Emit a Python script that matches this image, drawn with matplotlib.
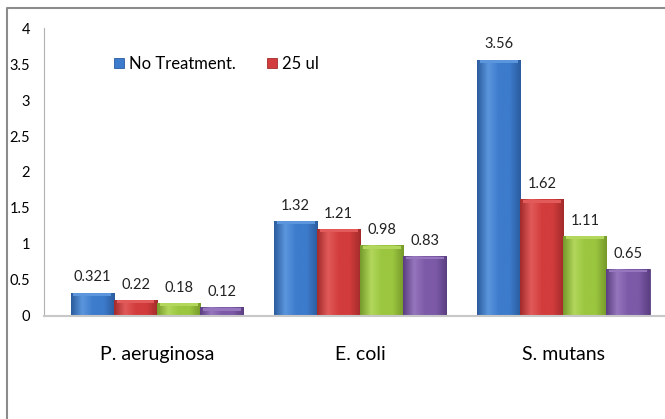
"""
Grouped bar chart: four treatments for three bacteria, Excel-like style
"""

import numpy as np
import matplotlib.pyplot as plt
from matplotlib.colors import LinearSegmentedColormap
from matplotlib.lines import Line2D

plt.rcParams['font.family'] = ['Lato', 'DejaVu Sans']

categories = ["P. aeruginosa", "E. coli", "S. mutans"]
series_names = ["No Treatment.", "25 ul", "_s3", "_s4"]   # only two appear in the legend
values = [
    [0.321, 1.32, 3.56],
    [0.22, 1.21, 1.62],
    [0.18, 0.98, 1.11],
    [0.12, 0.83, 0.65],
]
labels = [
    ["0.321", "1.32", "3.56"],
    ["0.22", "1.21", "1.62"],
    ["0.18", "0.98", "1.11"],
    ["0.12", "0.83", "0.65"],
]
yticks = [0, 0.5, 1, 1.5, 2, 2.5, 3, 3.5, 4]
ytick_labels = ["0", "0.5", "1", "1.5", "2", "2.5", "3", "3.5", "4"]

# base / light / dark shades for each series
shades = [
    ("#3d7bcc", "#5b96dd", "#2b5c9e"),
    ("#d23c3c", "#e25a5a", "#a32b2b"),
    ("#9bc63f", "#b2d75c", "#769a2b"),
    ("#7d5aa8", "#9676bd", "#5b3f82"),
]

fig = plt.figure(figsize=(6.65, 4.19), dpi=100)
ax = fig.add_axes([0.066, 0.246, 0.934, 0.687])
ax.patch.set_visible(False)

x = np.arange(len(categories))
w = 0.212
offsets = (np.arange(4) - 1.5) * w

for i in range(4):
    base, light, dark = shades[i]
    bars = ax.bar(x + offsets[i], values[i], w, color=base, label=series_names[i],
                  edgecolor=dark, linewidth=0.6, zorder=2)
    cmap = LinearSegmentedColormap.from_list("g%d" % i, [dark, light, base, base, dark])
    grad = np.linspace(0, 1, 64).reshape(1, -1)
    for b in bars:
        bx, by = b.get_x(), b.get_y()
        bw, bh = b.get_width(), b.get_height()
        im = ax.imshow(grad, cmap=cmap, extent=(bx, bx + bw, by, by + bh),
                       aspect='auto', zorder=2.5, interpolation='bicubic')
        im.set_clip_path(b)
        # light bevel along the top of each bar
        ax.fill_between([bx + bw * 0.06, bx + bw * 0.94], by + bh - 0.045, by + bh - 0.005,
                        color=light, zorder=2.6, linewidth=0)
    for b, lab in zip(bars, labels[i]):
        ax.annotate(lab, (b.get_x() + b.get_width() / 2, b.get_height()),
                    xytext=(0, 6), textcoords="offset points",
                    ha="center", va="bottom", fontsize=10.5, color="#222222")

ax.set_xlim(-0.557, 2.5)
ax.set_ylim(0, 4)
ax.set_yticks(yticks)
ax.set_yticklabels(ytick_labels, fontsize=10.5)
ax.set_xticks(x)
ax.set_xticklabels(categories, fontsize=14)
ax.tick_params(axis='y', length=0, pad=10)
ax.tick_params(axis='x', length=0, pad=22)

for s in ["top", "right"]:
    ax.spines[s].set_visible(False)
ax.spines["left"].set_color("#b0b0b0")
ax.spines["bottom"].set_color("#c8c8c8")
ax.spines["bottom"].set_linewidth(1.5)

ax.legend(loc="upper left", bbox_to_anchor=(0.088, 0.955), ncol=2, frameon=False,
          fontsize=12, handlelength=0.6, handleheight=0.6, handletextpad=0.3,
          columnspacing=1.9)

# outer frame (left and top edges visible in the reference)
fig.add_artist(Line2D([0.0105, 0.0105, 1.0], [0, 0.981, 0.981], color="#8c8c8c", lw=1.5))

fig.savefig("out.png", dpi=100)
